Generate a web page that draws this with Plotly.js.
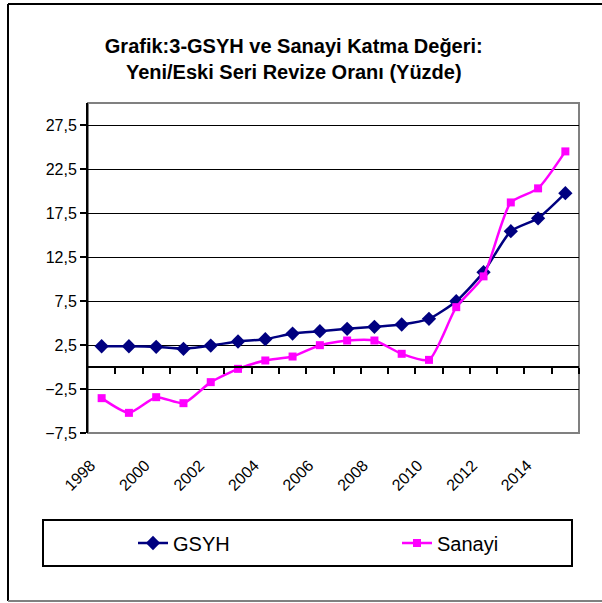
<!DOCTYPE html>
<html>
<head>
<meta charset="utf-8">
<script src="https://cdn.plot.ly/plotly-3.0.1.min.js"></script>
<style>html,body{margin:0;padding:0;background:#fff;}#chart{width:602px;height:603px;}</style>
</head>
<body>
<div id="chart"></div>
<script>
const years = [1998,1999,2000,2001,2002,2003,2004,2005,2006,2007,2008,2009,2010,2011,2012,2013,2014,2015];
const gsyh = [2.36,2.36,2.29,2.07,2.44,2.9,3.16,3.8,4.07,4.34,4.57,4.83,5.47,7.48,10.78,15.43,16.9,19.75];
const sanayi = [-3.54,-5.21,-3.43,-4.11,-1.72,-0.21,0.74,1.19,2.48,3.01,3.01,1.5,0.81,6.8,10.3,18.7,20.3,24.5];
const xTickVals = [1998,2000,2002,2004,2006,2008,2010,2012,2014];
const xTickText = ["1998","2000","2002","2004","2006","2008","2010","2012","2014"];
const xBoundaryTicks = [1998.5,1999.5,2000.5,2001.5,2002.5,2003.5,2004.5,2005.5,2006.5,2007.5,2008.5,2009.5,2010.5,2011.5,2012.5,2013.5,2014.5,2015.5];
const yTickVals = [-7.5,-2.5,2.5,7.5,12.5,17.5,22.5,27.5];
const seriesNames = ["GSYH","Sanayi"];
const titleText = "Grafik:3-GSYH ve Sanayi Katma Değeri:<br>Yeni/Eski Seri Revize Oranı (Yüzde)";

const FONT = "Arial, 'Liberation Sans', sans-serif";
const W = 602, H = 603, L = 88, R = 23, T = 103, B = 170;
const pw = W - L - R, ph = H - T - B;
const px = v => (v - L) / pw;
const py = v => (H - B - v) / ph;

const traces = [
  {x: years, y: gsyh, name: seriesNames[0], type: 'scatter', mode: 'lines+markers', legend: 'legend',
   line: {color: '#000080', width: 2.5, shape: 'spline', smoothing: 0.6},
   marker: {symbol: 'diamond', size: 11, color: '#000080'}},
  {x: years, y: sanayi, name: seriesNames[1], type: 'scatter', mode: 'lines+markers', legend: 'legend2',
   line: {color: '#FF00FF', width: 2.5, shape: 'spline', smoothing: 0.6},
   marker: {symbol: 'square', size: 8, color: '#FF00FF'}},
  {x: years, y: gsyh, xaxis: 'x2', yaxis: 'y', type: 'scatter', mode: 'lines',
   opacity: 0, showlegend: false, hoverinfo: 'skip'}
];

const legendBase = {orientation: 'h', xanchor: 'left', y: py(543), yanchor: 'middle',
  bgcolor: 'rgba(0,0,0,0)', borderwidth: 0, font: {family: FONT, size: 20, color: '#000'}};

const layout = {
  width: W, height: H,
  margin: {l: L, r: R, t: T, b: B, pad: 0},
  paper_bgcolor: '#fff', plot_bgcolor: '#fff',
  separators: ',.',
  font: {family: FONT, color: '#000', size: 16},
  title: {text: titleText, font: {family: FONT, size: 20, color: '#000', weight: 'bold'},
          x: 0.488, xanchor: 'center', y: 1 - 53/H, yanchor: 'top', yref: 'container'},
  showlegend: true,
  legend: Object.assign({}, legendBase, {x: px(133)}),
  legend2: Object.assign({}, legendBase, {x: px(397)}),
  xaxis: {range: [1997.5, 2015.5], tickvals: xTickVals, ticktext: xTickText, tickangle: -45,
          ticks: '', showgrid: false, showline: false, zeroline: false,
          ticklabelstandoff: 19, ticklabelshift: -11,
          tickfont: {family: FONT, size: 16, color: '#000'}, fixedrange: true},
  xaxis2: {range: [1997.5, 2015.5], overlaying: 'x', anchor: 'free', position: 0.2,
           tickvals: xBoundaryTicks, showticklabels: false, ticks: 'outside', ticklen: 6,
           tickwidth: 2, tickcolor: '#000', showline: true, linecolor: '#000', linewidth: 2,
           showgrid: false, zeroline: false, fixedrange: true},
  yaxis: {range: [-7.5, 30], tickvals: yTickVals, tickformat: '.1f', ticks: 'outside',
          ticklen: 6, tickwidth: 2, tickcolor: '#000', showline: true, linecolor: '#000', linewidth: 2,
          showgrid: true, gridcolor: '#000', gridwidth: 1, zeroline: false,
          tickfont: {family: FONT, size: 16, color: '#000'}, fixedrange: true},
  shapes: [
    {type: 'rect', xref: 'x domain', yref: 'y domain', x0: 0, x1: 1, y0: 0, y1: 1,
     line: {color: '#808080', width: 2}, layer: 'below'},
    {type: 'rect', xref: 'paper', yref: 'paper', x0: px(43), x1: px(572), y0: py(520), y1: py(566),
     line: {color: '#000', width: 2}},
    {type: 'line', xref: 'paper', yref: 'paper', x0: px(8), x1: px(602), y0: py(4), y1: py(4),
     line: {color: '#000', width: 2}},
    {type: 'line', xref: 'paper', yref: 'paper', x0: px(8), x1: px(8), y0: py(4), y1: py(601),
     line: {color: '#000', width: 2}},
    {type: 'line', xref: 'paper', yref: 'paper', x0: px(8), x1: px(602), y0: py(601), y1: py(601),
     line: {color: '#808080', width: 2}}
  ]
};

Plotly.newPlot('chart', traces, layout, {displayModeBar: false, staticPlot: true});
</script>
</body>
</html>
